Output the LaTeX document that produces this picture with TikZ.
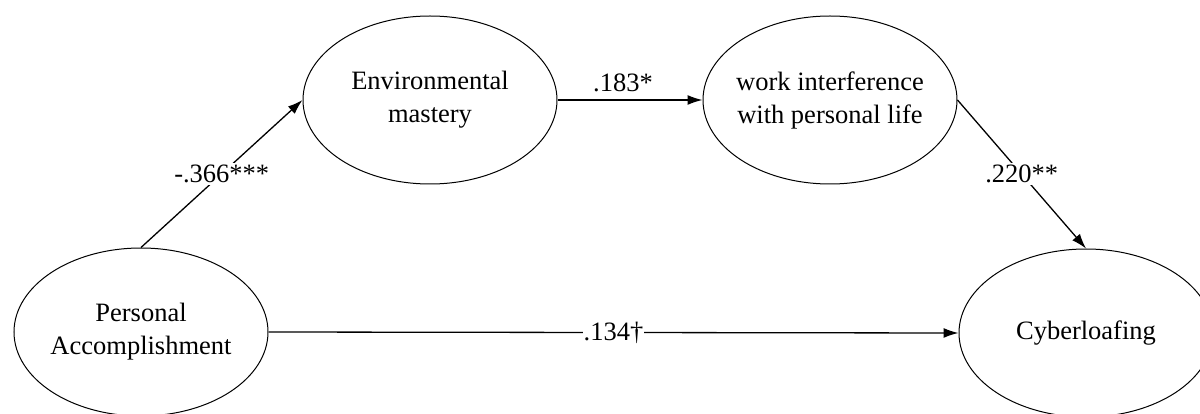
\documentclass[tikz,border=0pt]{standalone}
\usepackage{fontspec}
\setmainfont{Liberation Serif}
\usetikzlibrary{shapes.geometric,arrows.meta}
\begin{document}
\begin{tikzpicture}[x=1pt,y=1pt,
  var/.style={draw,ellipse,line width=1pt,minimum width=254pt,minimum height=168pt,inner sep=-20pt,align=center,font=\fontsize{26.5}{33}\selectfont},
  path/.style={line width=1.3pt,-{Latex[length=15pt,width=10pt]}},
  coef/.style={font=\fontsize{26.5}{30}\selectfont,fill=white,inner sep=2pt}]
\useasboundingbox (0,0) rectangle (1200,-414);
\node[var] (PA) at (141,-332) {Personal\\Accomplishment};
\node[var] (EM) at (430,-100) {Environmental\\mastery};
\node[var] (WI) at (830,-100) {work interference\\with personal life};
\node[var] (CY) at (1086,-333) {Cyberloafing};
\draw[path] (PA.north) -- node[coef] {-.366***} (EM.west);
\draw[path] (EM.east) -- node[coef,fill=none,above=5pt,xshift=-7pt] {.183*} (WI.west);
\draw[path] (WI.east) -- node[coef] {.220**} (CY.north);
\draw[path] (PA.east) -- node[coef,inner sep=1pt] {.134†} (CY.west);
\end{tikzpicture}
\end{document}
